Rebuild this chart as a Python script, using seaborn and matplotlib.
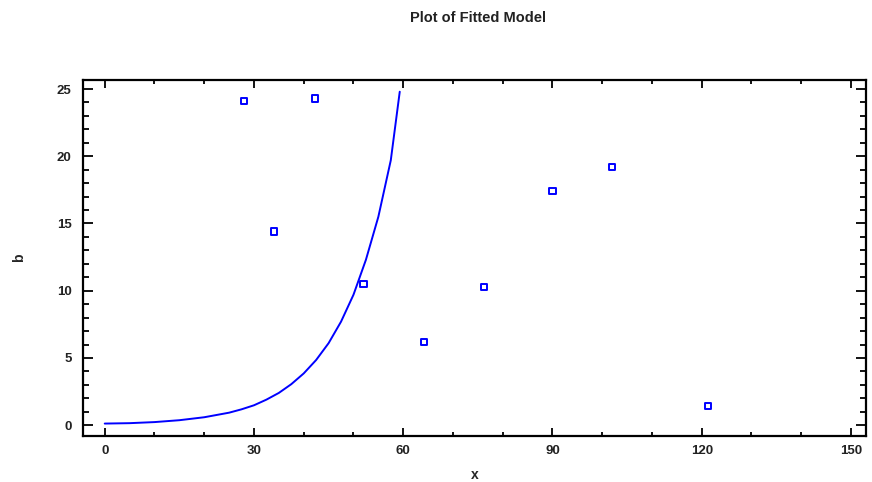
import pandas as pd
import matplotlib
matplotlib.use("Agg")
import matplotlib.pyplot as plt
import seaborn as sns
from matplotlib.ticker import MultipleLocator

# observed points
obs_x = [28.0, 34.0, 42.2, 52.0, 64.2, 76.2, 90.0, 102.0, 121.3]
obs_b = [24.1, 14.4, 24.3, 10.5, 6.2, 10.3, 17.4, 19.2, 1.4]

# fitted curve
fit_x = [0, 5, 10, 15, 20, 25, 27.5, 30, 32.5, 35, 37.5, 40, 42.5, 45,
         47.5, 50, 52.5, 55, 57.5, 59.3]
fit_b = [0.12, 0.15, 0.23, 0.37, 0.59, 0.93, 1.18, 1.48, 1.9, 2.4, 3.05,
         3.85, 4.85, 6.1, 7.7, 9.7, 12.3, 15.5, 19.7, 24.8]

x_ticks = [0, 30, 60, 90, 120, 150]
b_ticks = [0, 5, 10, 15, 20, 25]


def main():
    obs = pd.DataFrame({"x": obs_x, "b": obs_b})
    fit = pd.DataFrame({"x": fit_x, "b": fit_b})

    sns.set_style("ticks")
    plt.rcParams["font.family"] = ["Liberation Sans", "DejaVu Sans"]

    fig = plt.figure(figsize=(8.72, 4.82), dpi=100)
    ax = fig.add_axes([0.095, 0.095, 0.898, 0.739])

    sns.lineplot(data=fit, x="x", y="b", color="#0000ff", linewidth=1.4,
                 ax=ax, sort=True)
    sns.scatterplot(data=obs, x="x", y="b", marker="s", s=20,
                    facecolor="none", edgecolor="#0000ff", linewidth=1.4,
                    ax=ax)

    ax.set_xlim(-4.4, 153.0)
    ax.set_ylim(-0.82, 25.67)
    ax.set_xticks(x_ticks)
    ax.set_yticks(b_ticks)
    ax.xaxis.set_minor_locator(MultipleLocator(10))
    ax.yaxis.set_minor_locator(MultipleLocator(1))

    ax.tick_params(axis="both", which="both", direction="in",
                   top=True, right=True, width=1.3, color="black",
                   labelsize=9.5)
    ax.tick_params(axis="x", which="major", length=6, pad=6)
    ax.tick_params(axis="x", which="minor", length=3)
    ax.tick_params(axis="y", which="major", length=7, pad=8)
    ax.tick_params(axis="y", which="minor", length=4)
    for lab in ax.get_xticklabels() + ax.get_yticklabels():
        lab.set_fontweight("bold")
        lab.set_color("#222222")

    for sp in ax.spines.values():
        sp.set_visible(True)
        sp.set_linewidth(1.6)
        sp.set_color("black")

    ax.set_xlabel("x", fontsize=10, fontweight="bold", labelpad=8)
    ax.set_ylabel("b", fontsize=10, fontweight="bold", labelpad=22)
    fig.text(0.548, 0.962, "Plot of Fitted Model", ha="center", va="center",
             fontsize=10.5, fontweight="bold", color="#222222")

    fig.savefig("out.png", dpi=100)


if __name__ == "__main__":
    main()
